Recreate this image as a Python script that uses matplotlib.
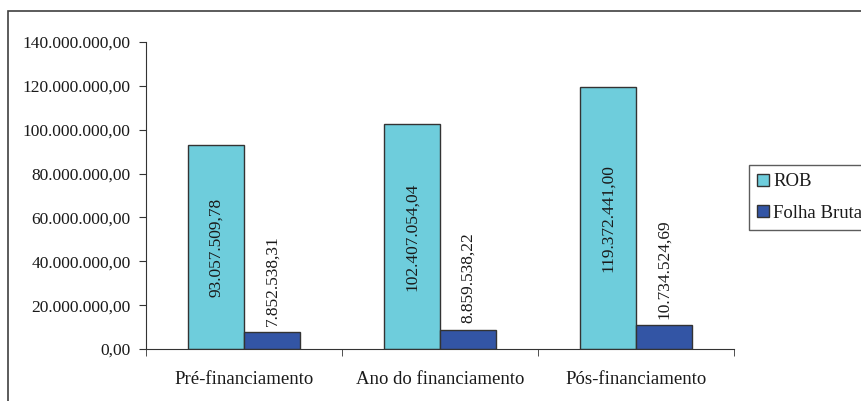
import matplotlib.pyplot as plt
import matplotlib.patches as mpatches
import numpy as np

categories = ["Pré-financiamento", "Ano do financiamento", "Pós-financiamento"]
rob = [93057509.78, 102407054.04, 119372441.00]
folha = [7852538.31, 8859538.22, 10734524.69]
rob_labels = ["93.057.509,78", "102.407.054,04", "119.372.441,00"]
folha_labels = ["7.852.538,31", "8.859.538,22", "10.734.524,69"]
yticks = [0, 20e6, 40e6, 60e6, 80e6, 100e6, 120e6, 140e6]
ytick_labels = ["0,00", "20.000.000,00", "40.000.000,00", "60.000.000,00",
                "80.000.000,00", "100.000.000,00", "120.000.000,00", "140.000.000,00"]

plt.rcParams['font.family'] = ['Liberation Serif', 'DejaVu Serif']
txt = '#1a1a1a'

fig = plt.figure(figsize=(8.61, 4.01), dpi=100)
ax = fig.add_axes([146 / 861, 1 - 349 / 401, 588 / 861, 307 / 401])

# outer frame (cut off at right and bottom)
fig.patches.append(mpatches.Rectangle((8 / 861, -0.1), 1.2, 1 - 11 / 401 + 0.1,
                                      transform=fig.transFigure, fill=False,
                                      edgecolor='#404040', linewidth=1.2))

x = np.arange(len(categories))
w = 0.286
edge = '#333333'
b1 = ax.bar(x - w / 2, rob, w, color='#6ECDDC', edgecolor=edge, linewidth=1, label='ROB')
b2 = ax.bar(x + w / 2, folha, w, color='#3355A5', edgecolor=edge, linewidth=1, label='Folha Bruta')

for xi, v, t in zip(x, rob, rob_labels):
    ax.text(xi - w / 2, v / 2, t, rotation=90, ha='center', va='center', fontsize=12.5, color=txt)
for xi, v, t in zip(x, folha, folha_labels):
    ax.text(xi + w / 2, v + 2.8e6, t, rotation=90, ha='center', va='bottom', fontsize=12.5, color=txt)

ax.set_xlim(-0.5, 2.5)
ax.set_ylim(0, 140e6)
ax.set_yticks(yticks)
ax.set_yticklabels(ytick_labels, fontsize=12.5, color=txt)
ax.set_xticks(x)
ax.set_xticklabels(categories, fontsize=13.5, color=txt)
ax.tick_params(axis='x', length=0, pad=16)
ax.set_xticks([-0.5, 0.5, 1.5, 2.5], minor=True)
ax.tick_params(axis='x', which='minor', length=5, color='#333333')
ax.tick_params(axis='y', length=5, color='#333333', pad=6)
for s in ['top', 'right']:
    ax.spines[s].set_visible(False)
for s in ['left', 'bottom']:
    ax.spines[s].set_color('#333333')

leg = fig.legend(handles=[b1, b2], loc='upper left', bbox_to_anchor=(749 / 861, 1 - 165 / 401),
                 fontsize=13.5, frameon=True, fancybox=False, edgecolor='#333333',
                 handlelength=0.6, handleheight=0.6, handletextpad=0.25, borderpad=0.45,
                 labelspacing=0.75, borderaxespad=0)
for t in leg.get_texts():
    t.set_color(txt)
leg.get_frame().set_linewidth(1)

fig.savefig('out.png', dpi=100)
